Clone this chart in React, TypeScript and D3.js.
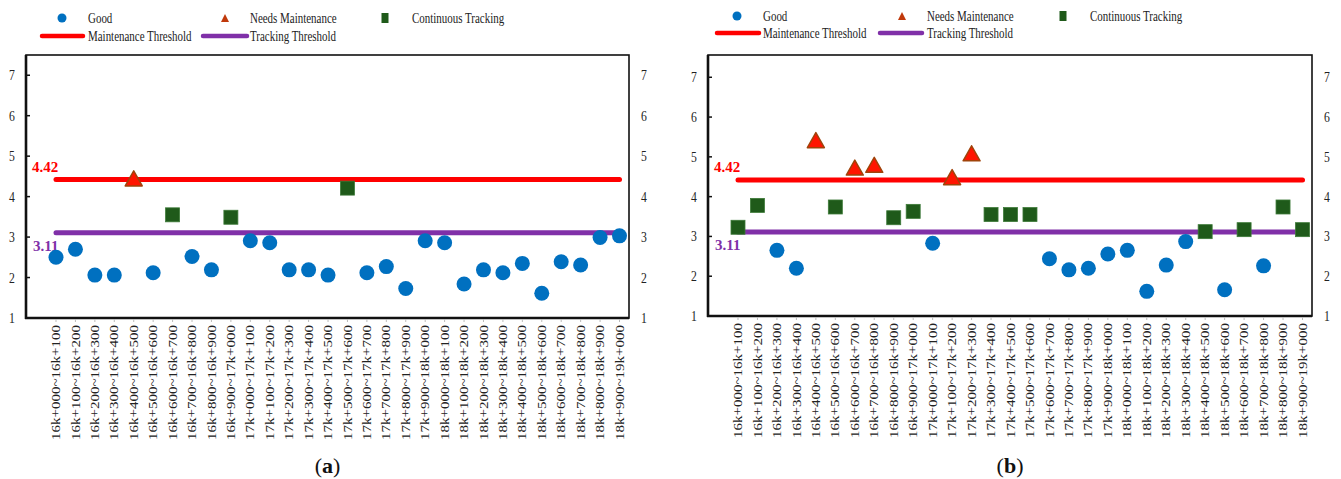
import * as d3 from "d3";

const segments = [
  "16k+000~16k+100", "16k+100~16k+200", "16k+200~16k+300", "16k+300~16k+400", "16k+400~16k+500",
  "16k+500~16k+600", "16k+600~16k+700", "16k+700~16k+800", "16k+800~16k+900", "16k+900~17k+000",
  "17k+000~17k+100", "17k+100~17k+200", "17k+200~17k+300", "17k+300~17k+400", "17k+400~17k+500",
  "17k+500~17k+600", "17k+600~17k+700", "17k+700~17k+800", "17k+800~17k+900", "17k+900~18k+000",
  "18k+000~18k+100", "18k+100~18k+200", "18k+200~18k+300", "18k+300~18k+400", "18k+400~18k+500",
  "18k+500~18k+600", "18k+600~18k+700", "18k+700~18k+800", "18k+800~18k+900", "18k+900~19k+000",
];

const scoresA = [2.5, 2.7, 2.06, 2.06, 4.45, 2.12, 3.55, 2.52, 2.19, 3.49, 2.91, 2.86, 2.19, 2.19, 2.06,
  4.21, 2.12, 2.27, 1.73, 2.91, 2.86, 1.84, 2.19, 2.12, 2.35, 1.61, 2.39, 2.31, 2.99, 3.03];
const scoresB = [3.23, 3.78, 2.65, 2.2, 5.42, 3.74, 4.73, 4.8, 3.47, 3.63, 2.83, 4.49, 5.09, 3.55, 3.55,
  3.55, 2.44, 2.16, 2.2, 2.56, 2.65, 1.62, 2.28, 2.87, 3.12, 1.66, 3.17, 2.26, 3.74, 3.17];

const maintenanceThreshold = 4.42;
const trackingThreshold = 3.11;
const yTicks = [1, 2, 3, 4, 5, 6, 7];

const FONT = "'Liberation Serif', 'Times New Roman', serif";
const BLUE = "#0070C0";
const GREEN = "#1F5A1A";
const TRI_FILL = "#FF1500";
const TRI_STROKE = "#A0430A";
const RED = "#FF0000";
const PURPLE = "#8030A8";
const SQX = 0.78; // text in the source is horizontally squeezed

function status(v) {
  if (v >= maintenanceThreshold) return "maint";
  if (v >= trackingThreshold) return "track";
  return "good";
}

function Marker({ kind, x, y }) {
  if (kind === "good") return <circle cx={x} cy={y} r={7.5} fill={BLUE} />;
  if (kind === "track") {
    const s = 14;
    return <rect x={x - s / 2} y={y - s / 2} width={s} height={s} fill={GREEN} stroke="#3d7a38" strokeWidth={0.8} />;
  }
  const w = 17;
  const h = 15;
  return <path d={`M${x},${y - h / 2}L${x + w / 2},${y + h / 2}L${x - w / 2},${y + h / 2}Z`} fill={TRI_FILL} stroke={TRI_STROKE} strokeWidth={1.5} strokeLinejoin="round" />;
}

function SqText({ x, y, size = 14, sx = SQX, anchor = "start", children }) {
  return (
    <text transform={`translate(${x},${y}) scale(${sx},1)`} textAnchor={anchor} fontFamily={FONT} fontSize={size} fill="#222">{children}</text>
  );
}

function Panel({ cfg, scores, tag }) {
  const { left, right, top, bottom, yMax, lg } = cfg;
  const x = d3.scalePoint().domain(segments).range([left + 30, right - 9.5]);
  const y = d3.scaleLinear().domain([1, yMax]).range([bottom, top]);
  const x0 = x(segments[0]);
  const x1 = x(segments[segments.length - 1]);
  return (
    <g>
      {/* legend */}
      <circle cx={lg.c1} cy={lg.r1} r={4.5} fill={BLUE} />
      <SqText x={lg.c1t} y={lg.r1 + 5} size={15} sx={0.73}>Good</SqText>
      <path d={`M${lg.c2},${lg.r1 - 4}L${lg.c2 + 4},${lg.r1 + 4}L${lg.c2 - 4},${lg.r1 + 4}Z`} fill="#C0390B" />
      <SqText x={lg.c2t} y={lg.r1 + 5} size={15} sx={0.73}>Needs Maintenance</SqText>
      <rect x={lg.c3 - 3.5} y={lg.r1 - 5} width={7} height={10} fill={GREEN} />
      <SqText x={lg.c3t} y={lg.r1 + 5} size={15} sx={0.73}>Continuous Tracking</SqText>
      <line x1={lg.redA} x2={lg.redB} y1={lg.r2} y2={lg.r2} stroke={RED} strokeWidth={4.5} strokeLinecap="round" />
      <SqText x={lg.c1t} y={lg.r2 + 5} size={15} sx={0.73}>Maintenance Threshold</SqText>
      <line x1={lg.purA} x2={lg.purB} y1={lg.r2} y2={lg.r2} stroke={PURPLE} strokeWidth={4.5} strokeLinecap="round" />
      <SqText x={lg.c2t} y={lg.r2 + 5} size={15} sx={0.73}>Tracking Threshold</SqText>

      {/* frame */}
      <rect x={left} y={top} width={right - left} height={bottom - top} fill="none" stroke="#111" strokeWidth={1.6} />
      <line x1={left} x2={left} y1={top} y2={bottom + 1} stroke="#111" strokeWidth={2.6} />
      <line x1={left - 1} x2={right} y1={bottom} y2={bottom} stroke="#111" strokeWidth={2.6} />

      {yTicks.map((t) => (
        <g key={t}>
          <line x1={left} x2={left + 4} y1={y(t)} y2={y(t)} stroke="#111" strokeWidth={1.5} />
          <SqText x={left - 14} y={y(t) + 5} size={15} anchor="middle">{t}</SqText>
          <SqText x={right + 15} y={y(t) + 5} size={15} anchor="middle">{t}</SqText>
        </g>
      ))}

      {segments.map((s) => (
        <g key={s}>
          <line x1={x(s)} x2={x(s)} y1={bottom + 1} y2={bottom + 4} stroke="#bbb" strokeWidth={1} />
          <text transform={`translate(${x(s)},${bottom + 7}) rotate(-90) scale(1,${SQX})`} dy="0.35em" textAnchor="end" fontFamily={FONT} fontSize={15} fill="#222">{s}</text>
        </g>
      ))}

      {/* thresholds */}
      <line x1={x0} x2={x1} y1={y(maintenanceThreshold)} y2={y(maintenanceThreshold)} stroke={RED} strokeWidth={5} strokeLinecap="round" />
      <line x1={x0} x2={x1} y1={y(trackingThreshold)} y2={y(trackingThreshold)} stroke={PURPLE} strokeWidth={5} strokeLinecap="round" />
      <text x={left + 6} y={y(maintenanceThreshold) - 8} fontFamily={FONT} fontSize={15} fontWeight="bold" fill={RED}>{maintenanceThreshold.toFixed(2)}</text>
      <text x={left + 7} y={y(trackingThreshold) + 18} fontFamily={FONT} fontSize={15} fontWeight="bold" fill={PURPLE}>{trackingThreshold.toFixed(2)}</text>

      {scores.map((v, i) => (
        <Marker key={i} kind={status(v)} x={x(segments[i])} y={y(v)} />
      ))}

      <text x={(left + right) / 2} y={473} textAnchor="middle" fontFamily={FONT} fontSize={22} fill="#111">
        (<tspan fontWeight="bold">{tag}</tspan>)
      </text>
    </g>
  );
}

const panelA = {
  left: 26, right: 629, top: 55, bottom: 318, yMax: 7.5,
  lg: { r1: 18, r2: 36, c1: 62, c1t: 88, c2: 225, c2t: 250, c3: 385, c3t: 412, redA: 42, redB: 83, purA: 203, purB: 247 },
};
const panelB = {
  left: 708, right: 1312, top: 55, bottom: 316, yMax: 7.56,
  lg: { r1: 16, r2: 33, c1: 737, c1t: 763, c2: 902, c2t: 927, c3: 1063, c3t: 1090, redA: 717, redB: 759, purA: 880, purB: 922 },
};

export default function App() {
  return (
    <svg width={1341} height={479} style={{ position: "absolute", left: 0, top: 0, background: "#fff" }}>
      <Panel cfg={panelA} scores={scoresA} tag="a" />
      <Panel cfg={panelB} scores={scoresB} tag="b" />
    </svg>
  );
}
